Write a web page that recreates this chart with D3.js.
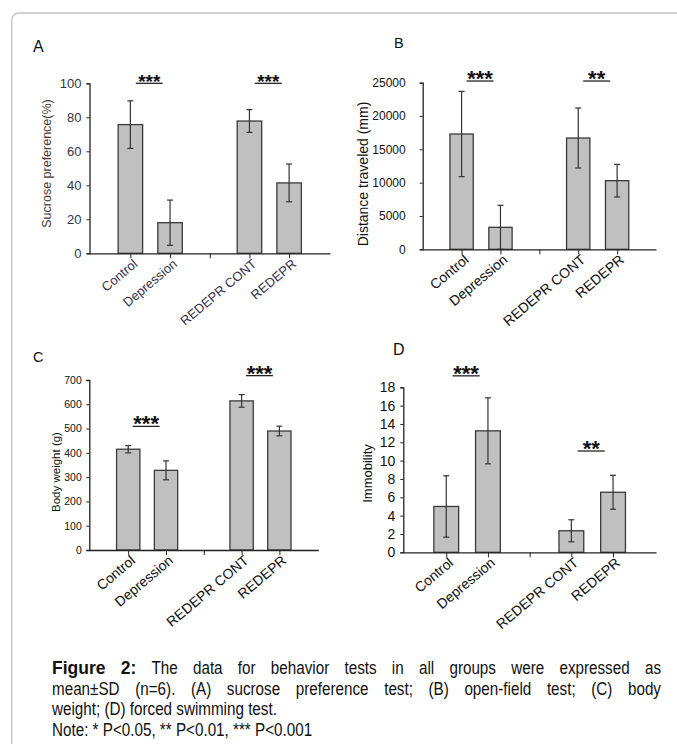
<!DOCTYPE html>
<html><head><meta charset="utf-8">
<script src="https://cdn.jsdelivr.net/npm/d3@7"></script>
<style>
body{margin:0;background:#fff}
svg{display:block}
text{font-family:"Liberation Sans",Arial,Helvetica,sans-serif}
</style>
</head><body>
<svg id="chart" width="677" height="744"></svg>
<script>
// ---------- data ----------
const categories = ["Control", "Depression", "REDEPR CONT", "REDEPR"];

const sucroseMean = [75.7, 18.0, 77.8, 41.4];
const sucroseSD   = [14.0, 13.3, 6.7, 11.1];
const sucroseTicks = [0, 20, 40, 60, 80, 100];

const distanceMean = [17300, 3300, 16700, 10300];
const distanceSD   = [6400, 3300, 4500, 2450];
const distanceTicks = [0, 5000, 10000, 15000, 20000, 25000];

const weightMean = [415, 328, 614, 490];
const weightSD   = [15, 39, 26, 20];
const weightTicks = [0, 100, 200, 300, 400, 500, 600, 700];

const immobMean = [5.0, 13.25, 2.35, 6.55];
const immobSD   = [3.35, 3.6, 1.2, 1.85];
const immobTicks = [0, 2, 4, 6, 8, 10, 12, 14, 16, 18];

// significance brackets: pair of category indices, label, level (data units)
const sigA = [{a: 0, b: 1, label: "***", level: 100}, {a: 2, b: 3, label: "***", level: 100}];
const sigB = [{a: 0, b: 1, label: "***", level: 25250}, {a: 2, b: 3, label: "**", level: 25250}];
const sigC = [{a: 0, b: 1, label: "***", level: 509}, {a: 2, b: 3, label: "***", level: 718}];
const sigD = [{a: 0, b: 1, label: "***", level: 19.25}, {a: 2, b: 3, label: "**", level: 11.05}];

const captionBold = "Figure 2:";
const captionLine1 = "The data for behavior tests in all groups were expressed as";
const captionLine2 = "mean\u00B1SD (n=6). (A) sucrose preference test; (B) open-field test; (C) body";
const captionLine3 = "weight; (D) forced swimming test.";
const captionLine4 = "Note: * P<0.05, ** P<0.01, *** P<0.001";

// ---------- layout ----------
const svg = d3.select("#chart");
const slots = [categories[0], categories[1], "gap", categories[2], categories[3]];

const panels = [
  {id: "A", mean: sucroseMean, sd: sucroseSD, ticks: sucroseTicks, sig: sigA, max: 100,
   title: "Sucrose preference(%)", left: 89.5, right: 330, y0: 253.3, y1: 83.3, pad: 1.03, barW: 24.5,
   lx: 33, ly: 52, lsize: 16, tickFont: 13, tickGap: 8, titleX: 50.5, titleY: 163.5, titleSize: 12.5,
   catFont: 13, txtColor: "#35324a", titleColor: "#4a3a30", starSize: 19},
  {id: "B", mean: distanceMean, sd: distanceSD, ticks: distanceTicks, sig: sigB, max: 25000,
   title: "Distance traveled (mm)", left: 422.7, right: 656, y0: 249.3, y1: 82.7, pad: 1.0, barW: 23.3,
   lx: 394, ly: 48, lsize: 14.5, tickFont: 12, tickGap: 17, titleX: 368, titleY: 174, titleSize: 14,
   catFont: 14, txtColor: "#111", titleColor: "#111", starSize: 22},
  {id: "C", mean: weightMean, sd: weightSD, ticks: weightTicks, sig: sigC, max: 700,
   title: "Body weight (g)", left: 89.3, right: 318.3, y0: 550, y1: 380, pad: 1.03, barW: 23.3,
   lx: 33, ly: 362, lsize: 14.5, tickFont: 10.5, tickGap: 7.5, titleX: 59.5, titleY: 472, titleSize: 11.5,
   catFont: 14, txtColor: "#111", titleColor: "#111", starSize: 22},
  {id: "D", mean: immobMean, sd: immobSD, ticks: immobTicks, sig: sigD, max: 18,
   title: "Immobility", left: 403.3, right: 656, y0: 552.3, y1: 387.3, pad: 1.03, barW: 24.8,
   lx: 393, ly: 355, lsize: 16, tickFont: 14, tickGap: 8, titleX: 372, titleY: 473.5, titleSize: 13,
   catFont: 14, txtColor: "#111", titleColor: "#111", starSize: 22}
];

// frame
svg.append("path")
  .attr("d", "M11.7,744 L11.7,21 Q11.7,13 19.7,13 L677,13")
  .attr("fill", "none").attr("stroke", "#c4c4c4").attr("stroke-width", 1.3);

panels.forEach(p => {
  const g = svg.append("g");
  const x = d3.scalePoint().domain(slots).range([p.left, p.right]).padding(p.pad);
  const y = d3.scaleLinear().domain([0, p.max]).range([p.y0, p.y1]);

  g.append("text").attr("x", p.lx).attr("y", p.ly).attr("font-size", p.lsize)
    .attr("fill", "#111").text(p.id);

  const data = categories.map((c, i) => ({c, m: p.mean[i], s: p.sd[i]}));
  g.selectAll("rect.bar").data(data).enter().append("rect")
    .attr("x", d => x(d.c) - p.barW / 2)
    .attr("width", p.barW)
    .attr("y", d => y(d.m))
    .attr("height", d => y(0) - y(d.m))
    .attr("fill", "#c0c0c0").attr("stroke", "#3a3a3a").attr("stroke-width", 1.3);

  const eb = g.selectAll("g.eb").data(data).enter().append("g")
    .attr("stroke", "#333").attr("stroke-width", 1.2);
  eb.append("line").attr("x1", d => x(d.c)).attr("x2", d => x(d.c))
    .attr("y1", d => y(Math.max(0, d.m - d.s))).attr("y2", d => y(d.m + d.s));
  eb.append("line").attr("x1", d => x(d.c) - 3).attr("x2", d => x(d.c) + 3)
    .attr("y1", d => y(d.m + d.s)).attr("y2", d => y(d.m + d.s));
  eb.append("line").attr("x1", d => x(d.c) - 3).attr("x2", d => x(d.c) + 3)
    .attr("y1", d => y(Math.max(0, d.m - d.s))).attr("y2", d => y(Math.max(0, d.m - d.s)));

  const ya = g.append("g").attr("transform", `translate(${p.left},0)`)
    .call(d3.axisLeft(y).tickValues(p.ticks).tickSize(3).tickPadding(p.tickGap - 3).tickFormat(d3.format("d")));
  ya.select(".domain").attr("stroke", "#222").attr("stroke-width", 1.3);
  ya.selectAll(".tick line").attr("stroke", "#222");
  ya.selectAll(".tick text").attr("font-size", p.tickFont).attr("fill", p.txtColor)
    .attr("font-family", '"Liberation Sans",Arial,sans-serif');

  const xa = g.append("g").attr("transform", `translate(0,${p.y0})`)
    .call(d3.axisBottom(x).tickSize(5).tickSizeOuter(0).tickFormat(""));
  xa.select(".domain").attr("stroke", "#222").attr("stroke-width", 1.3);
  xa.selectAll(".tick line").attr("stroke", "#222");

  g.selectAll("text.cat").data(categories).enter().append("text")
    .attr("text-anchor", "end")
    .attr("transform", d => `translate(${x(d) + 8},${p.y0 + 12}) rotate(-40)`)
    .attr("font-size", p.catFont).attr("fill", p.txtColor)
    .text(d => d);

  g.append("text").attr("text-anchor", "middle")
    .attr("transform", `translate(${p.titleX},${p.titleY}) rotate(-90)`)
    .attr("font-size", p.titleSize).attr("fill", p.titleColor).text(p.title);

  p.sig.forEach(s => {
    const mid = (x(categories[s.a]) + x(categories[s.b])) / 2 - 1;
    const yl = y(s.level);
    g.append("line").attr("x1", mid - 13.5).attr("x2", mid + 13.5)
      .attr("y1", yl).attr("y2", yl).attr("stroke", "#222").attr("stroke-width", 1.3);
    g.append("text").attr("x", mid).attr("y", yl + 5).attr("text-anchor", "middle")
      .attr("font-size", p.starSize).attr("font-weight", "bold").attr("fill", "#111").text(s.label);
  });
});

// ---------- caption (narrow body text emulated by horizontal squeeze) ----------
const capX0 = 52, capX1 = 661, capSize = 17.5, squeeze = 0.87;
function capText(t, bold, xx, yb) {
  const n = svg.append("text").attr("font-size", capSize).attr("fill", "#111").text(t);
  if (bold) n.attr("font-weight", "bold");
  const k = bold ? 1 : squeeze;
  const w = n.node().getComputedTextLength() * k;
  n.attr("transform", `translate(${xx},${yb}) scale(${k},1)`);
  return {n, w, k, yb};
}
function justify(words, yb) {
  const items = words.map(w => capText(w.t, w.bold, 0, yb));
  const total = d3.sum(items, d => d.w);
  const gap = (capX1 - capX0 - total) / (items.length - 1);
  let cx = capX0;
  items.forEach(it => {
    it.n.attr("transform", `translate(${cx},${yb}) scale(${it.k},1)`);
    cx += it.w + gap;
  });
}
const l1 = captionBold.split(" ").map(t => ({t, bold: true}))
  .concat(captionLine1.split(" ").map(t => ({t, bold: false})));
justify(l1, 674);
justify(captionLine2.split(" ").map(t => ({t, bold: false})), 694.5);
capText(captionLine3, false, capX0, 715);
capText(captionLine4, false, capX0, 735.5);
</script>
</body></html>
